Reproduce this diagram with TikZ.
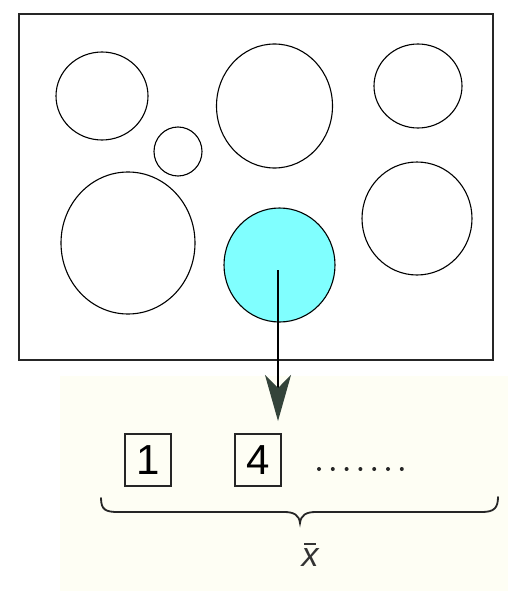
\documentclass[tikz,border=0pt]{standalone}
\usepackage{fontspec}
\setmainfont{Liberation Sans}
\usetikzlibrary{shapes.geometric,arrows.meta}
\definecolor{skyc}{HTML}{80FFFF}
\definecolor{paper}{HTML}{FEFEF4}
\definecolor{tipc}{HTML}{34443A}
\tikzset{
  blob/.style={draw=black, line width=1.1pt, ellipse, inner sep=0pt},
  numbox/.style={draw=black!85, line width=1.5pt, minimum width=46pt, minimum height=52pt, inner sep=0pt, font=\fontsize{42}{42}\selectfont},
  dotc/.style={fill=black!85, circle, inner sep=0pt, minimum size=4pt},
}
\begin{document}
\begin{tikzpicture}[x=1pt,y=-1pt]
\useasboundingbox (0,0) rectangle (508,591);
\fill[white] (0,0) rectangle (508,591);
\fill[paper] (60,376) rectangle (508,591);
% frame
\node[draw=black!85, line width=2pt, minimum width=474pt, minimum height=346pt, inner sep=0pt] (frame) at (256,187) {};
% circles
\node[blob, minimum width=92pt, minimum height=88pt] (c1) at (102,96) {};
\node[blob, minimum width=48pt, minimum height=49pt] (c2) at (178,151.5) {};
\node[blob, minimum width=116pt, minimum height=124pt] (c3) at (274.5,106) {};
\node[blob, minimum width=88pt, minimum height=84pt] (c4) at (418,86) {};
\node[blob, minimum width=134pt, minimum height=142pt] (c5) at (128,243) {};
\node[blob, fill=skyc, minimum width=111pt, minimum height=114pt] (c6) at (279.5,265) {};
\node[blob, minimum width=110pt, minimum height=113pt] (c7) at (417,218.5) {};
% arrow
\coordinate (start) at (278,270);
\coordinate (tip) at (278,421);
\draw[line width=1.2pt, -{Stealth[length=46pt, width=26pt, inset=13pt, color=tipc]}] (start) -- (tip);
% boxes
\node[numbox] (b1) at (148,460) {1};
\node[numbox] (b4) at (258,460) {4};
\foreach \i in {0,...,6} {\node[dotc] (d\i) at (319+\i*13.8,469) {};}
% brace
\draw[line width=1.8pt, black!85, line cap=round]
  (101,498) .. controls (101,510) and (106,512) .. (118,512)
  -- (284,512) .. controls (294,512) and (299,515) .. (300,523)
  .. controls (301,515) and (306,512) .. (316,512)
  -- (482,512) .. controls (494,512) and (498,508) .. (498,497);
\node[font=\fontsize{34}{34}\selectfont\itshape, text=black!80, inner sep=0pt] (xbar) at (310,558) {x};
\draw[line width=1.6pt, black!80] ([xshift=-6pt,yshift=5pt]xbar.north) -- ([xshift=6pt,yshift=5pt]xbar.north);
\end{tikzpicture}
\end{document}
